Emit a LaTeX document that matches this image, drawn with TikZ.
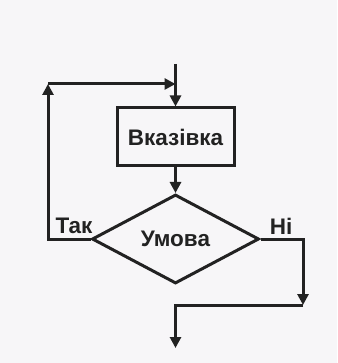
\documentclass[tikz,border=0pt]{standalone}
\usepackage{fontspec}
\setmainfont{Liberation Sans}
\usetikzlibrary{positioning, shapes.geometric, arrows.meta}
\definecolor{bgpaper}{RGB}{247,246,248}
\definecolor{ink}{RGB}{34,34,34}

\begin{document}
\begin{tikzpicture} [
			x=1pt, y=-1pt,
			line/.style={line width=3pt, draw=ink},
			arrow/.style={line, -{Triangle[length=11pt, width=11pt]}},
			box/.style={rectangle, draw=ink, line width=3pt, minimum width=117pt, minimum height=58pt, inner sep=0pt},
			cond/.style={diamond, draw=ink, line width=3pt, aspect=1.88, minimum width=167pt, minimum height=89pt, inner sep=0pt},
			lbl/.style={text=ink, font=\fontsize{22.5}{26}\selectfont\bfseries, inner sep=0pt}
		]
		\fill [bgpaper] (0,0) rectangle (337,363);
		
		\coordinate (start) at (175.5,64);
		\coordinate (merge) at (175.5,84);
		\node at (175.5,137) [box, lbl] (action) {Вказівка};
		\node at (175.5,239) [cond, lbl] (check) {Умова};
		\coordinate (back) at (48,84);
		\coordinate (skip) at (303,305);
		\coordinate (exit) at (175.5,348);
		\node at (74,226) [lbl] (yes) {Так};
		\node at (281,226) [lbl] (no) {Ні};
		
		\draw [line] (start) -- (merge);
		\draw [arrow] (merge) -- (action);
		\draw [arrow] (action) -- (check);
		\draw [arrow] (check.west) -| (back);
		\draw [arrow] (back) -- (merge);
		\draw [arrow] (check.east) -| (skip);
		\draw [arrow] (skip) -| (exit);
	\end{tikzpicture}
\end{document}
